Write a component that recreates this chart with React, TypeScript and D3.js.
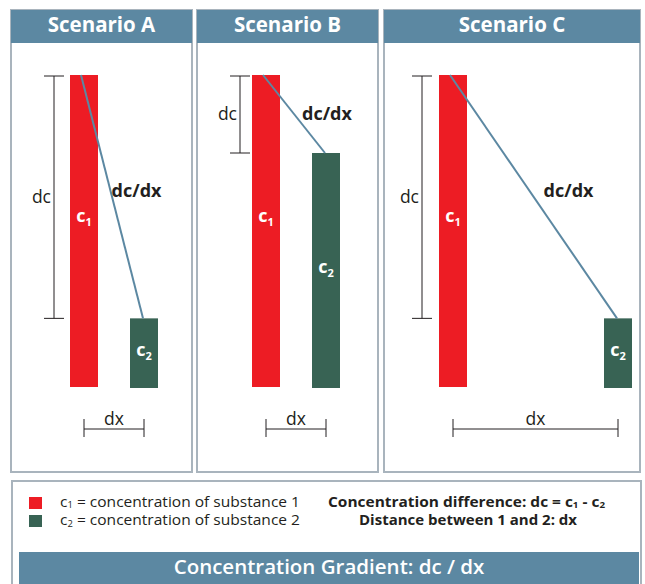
import React from "react";
import * as d3 from "d3";

// ---- data ----
const scenarioNames = ["Scenario A", "Scenario B", "Scenario C"];
const c1Values = [10, 10, 10];
const c2Values = [2.2, 7.5, 2.2];
const distances = [2, 2, 5.5];
const legendLines = ["concentration of substance 1", "concentration of substance 2"];
const definitionLines = ["Concentration difference: dc = c", "Distance between 1 and 2: dx"];
const footerTitle = "Concentration Gradient: dc / dx";

// ---- layout ----
const W = 645;
const H = 584;
const panelX = [11, 197, 384];
const panelW = [181, 181, 256];
const panelTop = 10;
const panelBottom = 472;
const headerH = 33;
const barLeftOffset = [59, 55, 55];
const bracketGap = [16, 12, 17];
const slopeLabelShift = [1, 8, 14];
const barW = 28;
const pxPerUnit = 30;

const RED = "#ed1c24";
const GREEN = "#386354";
const BLUE = "#5c88a2";
const BORDER = "#a9b4bd";
const INK = "#231f20";
const FONT = "'Open Sans', 'DejaVu Sans', sans-serif";

const yScale = d3.scaleLinear().domain([0, 10]).range([387, 75]);

function Panel({ i }: { i: number }) {
  const px = panelX[i];
  const pw = panelW[i];
  const barLeft = px + barLeftOffset[i];
  const c1c = barLeft + barW / 2;
  const xScale = d3.scaleLinear().domain([0, 1]).range([c1c, c1c + pxPerUnit]);
  const c2c = xScale(distances[i]);
  const y1 = yScale(c1Values[i]);
  const y2 = yScale(c2Values[i]);
  const y0 = yScale(0);
  const bx = barLeft - bracketGap[i];
  const lineStart: [number, number] = [c1c - 3, y1];
  const lineEnd: [number, number] = [c2c - 1, y2];
  const line = d3.line()([lineStart, lineEnd]) || "";
  const labelY = i === 1 ? (y1 + y2) / 2 + 6 : 197;
  const tLab = (labelY - 6 - y1) / (y2 - y1);
  const lineXAtLabel = lineStart[0] + tLab * (lineEnd[0] - lineStart[0]);
  const dxY = 429;
  return (
    <g>
      <rect x={px} y={panelTop} width={pw} height={panelBottom - panelTop} fill="#fff" stroke={BORDER} strokeWidth={2} />
      <rect x={px} y={panelTop} width={pw} height={headerH} fill={BLUE} />
      <text x={px + pw / 2} y={panelTop + 22} textAnchor="middle" fill="#fff" fontFamily={FONT} fontWeight={700} fontSize={20.5}>
        {scenarioNames[i]}
      </text>
      {/* bars */}
      <rect x={barLeft} y={y1} width={barW} height={y0 - y1} fill={RED} />
      <rect x={c2c - barW / 2} y={y2} width={barW} height={y0 + 1 - y2} fill={GREEN} />
      {/* dc bracket */}
      <g stroke={INK} strokeWidth={1}>
        <line x1={bx} x2={bx} y1={y1 + 1} y2={y2} />
        <line x1={bx - 10} x2={bx + 10} y1={y1 + 1} y2={y1 + 1} />
        <line x1={bx - 10} x2={bx + 10} y1={y2} y2={y2} />
      </g>
      <text x={bx - 3} y={(y1 + y2) / 2 + 6} textAnchor="end" fill={INK} fontFamily={FONT} fontSize={17.5}>dc</text>
      {/* slope */}
      <path d={line} stroke={BLUE} strokeWidth={2} fill="none" />
      <text x={lineXAtLabel + slopeLabelShift[i]} y={labelY} fill={INK} fontFamily={FONT} fontWeight={700} fontSize={18}>dc/dx</text>
      {/* bar labels */}
      <text x={c1c} y={222} textAnchor="middle" fill="#fff" fontFamily={FONT} fontWeight={700} fontSize={18}>
        c<tspan fontSize={11} dy={4}>1</tspan>
      </text>
      <text x={c2c} y={(y2 + y0) / 2 + 3} textAnchor="middle" fill="#fff" fontFamily={FONT} fontWeight={700} fontSize={18}>
        c<tspan fontSize={11} dy={4}>2</tspan>
      </text>
      {/* dx bracket */}
      <g stroke={INK} strokeWidth={1}>
        <line x1={c1c} x2={c2c} y1={dxY} y2={dxY} />
        <line x1={c1c} x2={c1c} y1={dxY - 10} y2={dxY + 8} />
        <line x1={c2c} x2={c2c} y1={dxY - 10} y2={dxY + 8} />
      </g>
      <text x={(c1c + c2c) / 2} y={425} textAnchor="middle" fill={INK} fontFamily={FONT} fontSize={17.5}>dx</text>
    </g>
  );
}

export default function App() {
  const legendColors = [RED, GREEN];
  return (
    <svg width={W} height={H} style={{ position: "absolute", left: 0, top: 0, display: "block" }}>
      <rect x={0} y={0} width={W} height={H} fill="#fff" />
      {scenarioNames.map((_, i) => (
        <Panel key={i} i={i} />
      ))}
      {/* legend box */}
      <rect x={12} y={481} width={629} height={120} fill="#fff" stroke={BORDER} strokeWidth={2} />
      {legendLines.map((t, i) => (
        <g key={i}>
          <rect x={29} y={497 + i * 18} width={13} height={12} fill={legendColors[i]} />
          <text x={60} y={506.5 + i * 18.5} fill={INK} fontFamily={FONT} fontSize={14} textLength={240} lengthAdjust="spacingAndGlyphs">
            c<tspan fontSize={8.5} dy={1.5}>{i + 1}</tspan>
            <tspan dy={-1.5}>{" = " + t}</tspan>
          </text>
        </g>
      ))}
      <text x={328} y={506.5} fill={INK} fontFamily={FONT} fontWeight={700} fontSize={13.5} textLength={277} lengthAdjust="spacingAndGlyphs">
        {definitionLines[0]}
        <tspan fontSize={8.5} dy={1.5}>1</tspan>
        <tspan dy={-1.5}>{" - c"}</tspan>
        <tspan fontSize={8.5} dy={1.5}>2</tspan>
      </text>
      <text x={359} y={524.5} fill={INK} fontFamily={FONT} fontWeight={700} fontSize={13.5} textLength={218} lengthAdjust="spacingAndGlyphs">
        {definitionLines[1]}
      </text>
      <rect x={19} y={552} width={620} height={40} fill={BLUE} />
      <text x={329} y={574} textAnchor="middle" fill="#fff" fontFamily={FONT} fontWeight={600} fontSize={20.5}>
        {footerTitle}
      </text>
    </svg>
  );
}
